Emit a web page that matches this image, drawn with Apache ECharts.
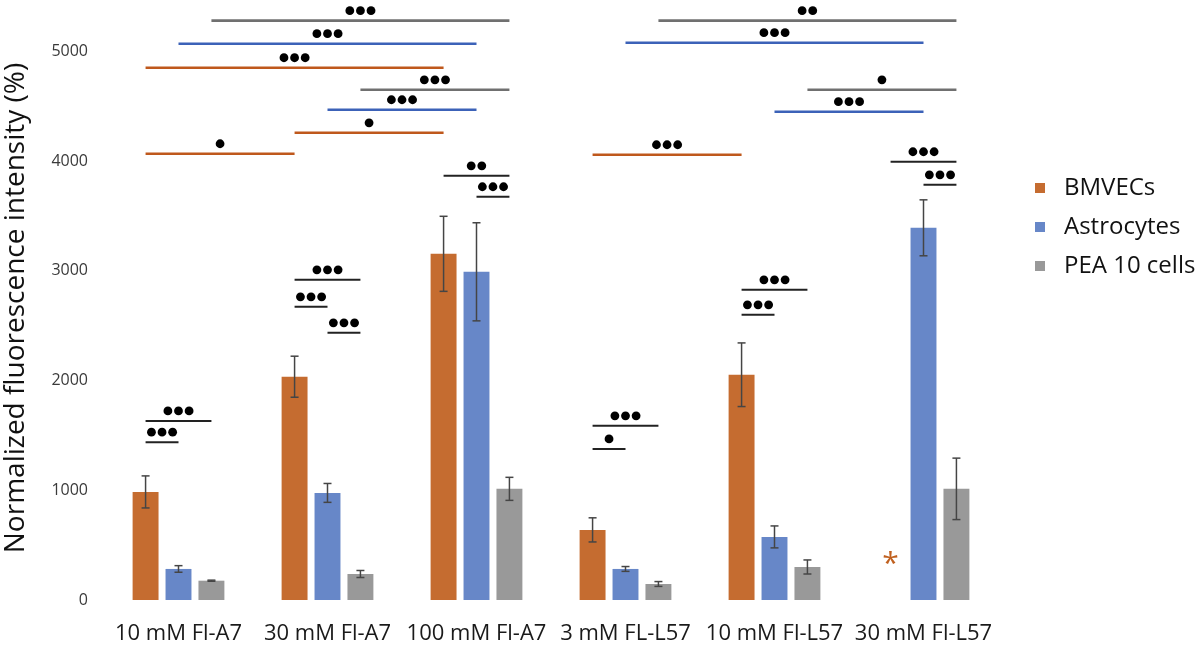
<!DOCTYPE html>
<html>
<head>
<meta charset="utf-8">
<script src="https://cdn.jsdelivr.net/npm/echarts@6/dist/echarts.min.js"></script>
<style>
  html, body { margin: 0; padding: 0; background: #fff; }
  #chart { width: 1200px; height: 647px; }
</style>
</head>
<body>
<div id="chart"></div>
<script>
// 数据
const categories = ['10 mM Fl-A7', '30 mM Fl-A7', '100 mM Fl-A7', '3 mM FL-L57', '10 mM Fl-L57', '30 mM Fl-L57'];
const seriesNames = ['BMVECs', 'Astrocytes', 'PEA 10 cells'];
const bmvecs = [985, 2035, 3155, 639, 2053, null];
const bmvecsErr = [146, 187, 342, 110, 290, null];
const astrocytes = [283, 976, 2991, 283, 575, 3392];
const astrocytesErr = [30, 86, 447, 22, 100, 255];
const pea10 = [176, 237, 1013, 146, 301, 1013];
const pea10Err = [5, 32, 105, 22, 64, 280];
const yMax = 5450;
const yStep = 1000;
// significance: [fromGroup, fromSeries, toGroup, toSeries, level, dots]
const brackets = [
  [0, 2, 2, 2, 5280, 3],
  [0, 1, 2, 1, 5070, 3],
  [0, 0, 2, 0, 4851, 3],
  [1, 2, 2, 2, 4650, 3],
  [1, 1, 2, 1, 4468, 3],
  [1, 0, 2, 0, 4258, 1],
  [0, 0, 1, 0, 4067, 1],
  [2, 0, 2, 2, 3866, 2],
  [2, 1, 2, 2, 3675, 3],
  [1, 0, 1, 2, 2918, 3],
  [1, 0, 1, 1, 2672, 3],
  [1, 1, 1, 2, 2435, 3],
  [0, 0, 0, 2, 1632, 3],
  [0, 0, 0, 1, 1438, 3],
  [3, 0, 3, 2, 1587, 3],
  [3, 0, 3, 1, 1377, 1],
  [3, 2, 5, 2, 5280, 2],
  [3, 1, 5, 1, 5079, 3],
  [4, 2, 5, 2, 4650, 1],
  [4, 1, 5, 1, 4450, 3],
  [3, 0, 4, 0, 4058, 3],
  [5, 0, 5, 2, 3994, 3],
  [5, 1, 5, 2, 3784, 3],
  [4, 0, 4, 2, 2827, 3],
  [4, 0, 4, 1, 2599, 3]
];
// no BMVECs value for 30 mM Fl-L57, marked with *
const missingMark = [[5, 0, 380]];

const barColors = ['#C56C30', '#6787C8', '#999999'];
const lineColors = ['#BF581C', '#3C62B8', '#707070'];
const BAR_FRAC = 0.174;
const BAR_GAP = 0.27;
const fontFamily = 'Open Sans';

const chart = echarts.init(document.getElementById('chart'));

function barOffset(api, s) {
  const band = api.size([1, 0])[0];
  const bw = band * BAR_FRAC;
  return (s - 1) * bw * (1 + BAR_GAP);
}

const values = [bmvecs, astrocytes, pea10];
const errs = [bmvecsErr, astrocytesErr, pea10Err];
const errData = [];
values.forEach(function (arr, s) {
  arr.forEach(function (v, g) {
    if (v != null) errData.push([g, v, errs[s][g], s]);
  });
});

function renderErr(params, api) {
  const g = api.value(0), v = api.value(1), e = api.value(2), s = api.value(3);
  const top = api.coord([g, v + e]);
  const bot = api.coord([g, v - e]);
  const x = top[0] + barOffset(api, s);
  const cap = 4;
  const style = { stroke: '#454545', lineWidth: 1.5 };
  return {
    type: 'group',
    children: [
      { type: 'line', shape: { x1: x, y1: top[1], x2: x, y2: bot[1] }, style: style },
      { type: 'line', shape: { x1: x - cap, y1: top[1], x2: x + cap, y2: top[1] }, style: style },
      { type: 'line', shape: { x1: x - cap, y1: bot[1], x2: x + cap, y2: bot[1] }, style: style }
    ]
  };
}

function renderBracket(params, api) {
  const g1 = api.value(0), s1 = api.value(1), g2 = api.value(2), s2 = api.value(3);
  const lvl = api.value(4), n = api.value(5);
  const p1 = api.coord([g1, lvl]);
  const p2 = api.coord([g2, lvl]);
  const x1 = p1[0] + barOffset(api, s1);
  const x2 = p2[0] + barOffset(api, s2);
  const y = p1[1];
  const within = g1 === g2;
  const children = [{
    type: 'line',
    shape: { x1: x1, y1: y, x2: x2, y2: y },
    style: { stroke: within ? '#222' : lineColors[s1], lineWidth: within ? 2 : 2.6 }
  }];
  const cx = (x1 + x2) / 2;
  const pitch = 10.6;
  for (let i = 0; i < n; i++) {
    children.push({
      type: 'circle',
      shape: { cx: cx + (i - (n - 1) / 2) * pitch, cy: y - 10, r: 4.4 },
      style: { fill: '#000' }
    });
  }
  return { type: 'group', children: children };
}

function renderMark(params, api) {
  const p = api.coord([api.value(0), api.value(2)]);
  return {
    type: 'text',
    style: {
      text: '*',
      x: p[0] + barOffset(api, api.value(1)),
      y: p[1] + 6,
      align: 'center',
      verticalAlign: 'middle',
      fontSize: 30,
      fontFamily: fontFamily,
      fill: '#C0601F'
    }
  };
}

const option = {
  animation: false,
  grid: { left: 104, right: 202, top: 2, bottom: 47, outerBoundsMode: 'none' },
  legend: {
    data: seriesNames,
    orient: 'vertical',
    left: 1030,
    top: 171,
    icon: 'rect',
    itemWidth: 10,
    itemHeight: 10,
    itemGap: 15,
    textStyle: { fontSize: 24, fontFamily: fontFamily, color: '#111', padding: [0, 0, 0, 14] }
  },
  xAxis: {
    type: 'category',
    data: categories,
    axisLine: { show: false },
    axisTick: { show: false },
    axisLabel: { fontSize: 22, fontFamily: fontFamily, color: '#1a1a1a', margin: 23, interval: 0 }
  },
  yAxis: {
    type: 'value',
    min: 0,
    max: yMax,
    interval: yStep,
    name: 'Normalized fluorescence intensity (%)',
    nameLocation: 'middle',
    nameGap: 74,
    nameTextStyle: { fontSize: 28, fontFamily: fontFamily, color: '#111', padding: [0, 14, 0, 0] },
    axisLine: { show: false },
    axisTick: { show: false },
    splitLine: { show: false },
    axisLabel: {
      fontSize: 16,
      fontFamily: fontFamily,
      color: '#3a3a3a',
      margin: 16,
      formatter: function (v) { return v % yStep === 0 ? String(v) : ''; }
    }
  },
  series: [
    { name: seriesNames[0], type: 'bar', data: bmvecs, barWidth: (BAR_FRAC * 100) + '%', barGap: (BAR_GAP * 100) + '%', itemStyle: { color: barColors[0] } },
    { name: seriesNames[1], type: 'bar', data: astrocytes, barWidth: (BAR_FRAC * 100) + '%', barGap: (BAR_GAP * 100) + '%', itemStyle: { color: barColors[1] } },
    { name: seriesNames[2], type: 'bar', data: pea10, barWidth: (BAR_FRAC * 100) + '%', barGap: (BAR_GAP * 100) + '%', itemStyle: { color: barColors[2] } },
    { type: 'custom', renderItem: renderErr, data: errData, encode: { x: 0, y: 1 }, z: 5, silent: true },
    { type: 'custom', renderItem: renderBracket, data: brackets, encode: { x: 0, y: 4 }, z: 6, clip: false, silent: true },
    { type: 'custom', renderItem: renderMark, data: missingMark, encode: { x: 0, y: 2 }, z: 6, silent: true }
  ]
};

chart.setOption(option);
</script>
</body>
</html>
